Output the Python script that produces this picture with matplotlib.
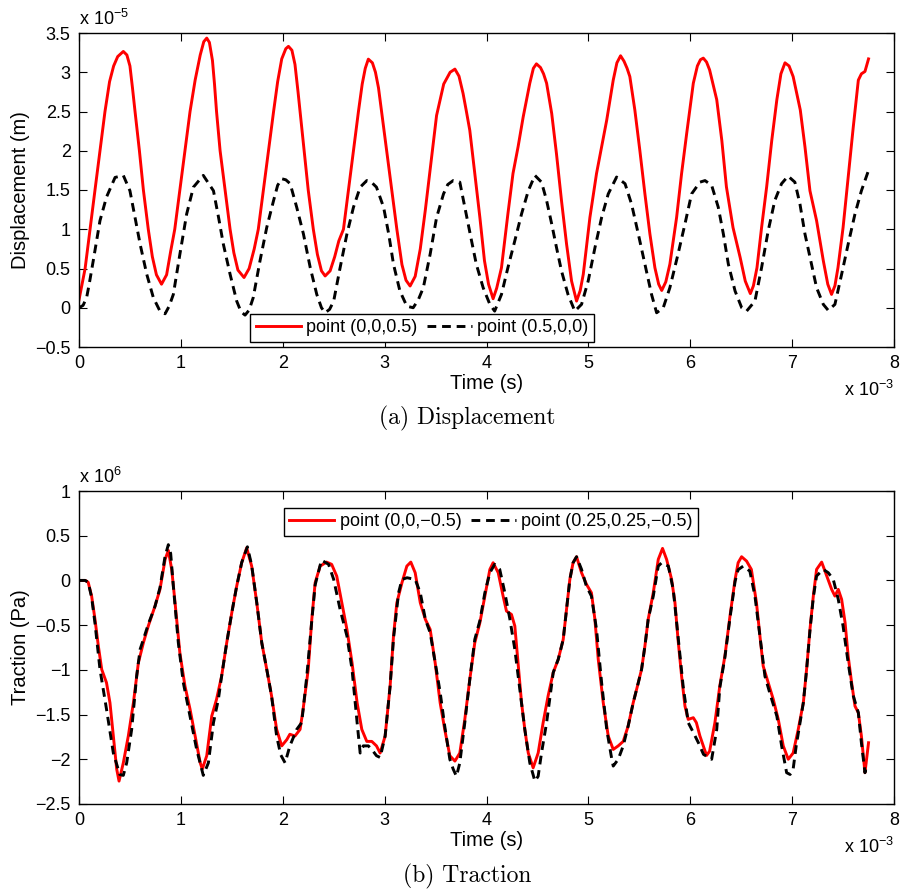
import matplotlib
matplotlib.use("Agg")
import matplotlib.pyplot as plt

plt.rcParams['font.family'] = ['Liberation Sans', 'DejaVu Sans']
plt.rcParams['mathtext.fontset'] = 'custom'
plt.rcParams['mathtext.rm'] = 'Liberation Sans'
plt.rcParams['mathtext.it'] = 'Liberation Sans:italic'
plt.rcParams['mathtext.sf'] = 'Liberation Sans'
plt.rcParams['axes.unicode_minus'] = True

# ---------------- data (time in 1e-3 s) ----------------
# (a) displacement, in 1e-5 m
t_disp_a = [0.00, 0.03, 0.06, 0.108, 0.157, 0.206, 0.255, 0.30, 0.34, 0.38, 0.435, 0.47, 0.50, 0.525, 0.55,
            0.593, 0.632, 0.68, 0.72, 0.76, 0.81, 0.86, 0.90, 0.94, 0.99, 1.04, 1.09, 1.14, 1.19, 1.225, 1.254,
            1.28, 1.31, 1.33, 1.35, 1.385, 1.434, 1.483, 1.52, 1.56, 1.62, 1.67, 1.72, 1.76, 1.81, 1.86, 1.91,
            1.95, 1.99, 2.03, 2.056, 2.09, 2.12, 2.15, 2.17, 2.21, 2.25, 2.30, 2.34, 2.38, 2.416, 2.465, 2.51,
            2.55, 2.596, 2.645, 2.694, 2.743, 2.78, 2.81, 2.84, 2.88, 2.91, 2.94, 2.97, 3.02, 3.07, 3.12, 3.17,
            3.21, 3.25, 3.30, 3.35, 3.40, 3.45, 3.51, 3.58, 3.643, 3.69, 3.73, 3.77, 3.80, 3.836, 3.885, 3.935,
            3.98, 4.02, 4.065, 4.10, 4.147, 4.21, 4.26, 4.31, 4.36, 4.425, 4.46, 4.49, 4.53, 4.56, 4.59, 4.64,
            4.687, 4.736, 4.786, 4.835, 4.884, 4.92, 4.95, 5.015, 5.08, 5.13, 5.18, 5.244, 5.28, 5.316, 5.35,
            5.38, 5.407, 5.456, 5.505, 5.555, 5.604, 5.653, 5.69, 5.72, 5.76, 5.80, 5.866, 5.915, 5.965, 6.03,
            6.07, 6.10, 6.128, 6.16, 6.19, 6.26, 6.31, 6.355, 6.42, 6.49, 6.54, 6.59, 6.62, 6.655, 6.70, 6.75,
            6.80, 6.85, 6.89, 6.93, 6.97, 7.01, 7.08, 7.126, 7.175, 7.24, 7.306, 7.35, 7.387, 7.42, 7.45, 7.50,
            7.55, 7.60, 7.65, 7.68, 7.715, 7.75]
u_disp_a = [0.10, 0.30, 0.50, 1.00, 1.50, 2.00, 2.50, 2.88, 3.08, 3.20, 3.265, 3.22, 3.08, 2.80, 2.50,
            2.00, 1.50, 1.00, 0.65, 0.42, 0.30, 0.42, 0.72, 1.00, 1.50, 2.00, 2.50, 2.90, 3.22, 3.39, 3.435,
            3.38, 3.15, 2.85, 2.50, 2.00, 1.50, 1.00, 0.70, 0.48, 0.385, 0.50, 0.75, 1.00, 1.50, 2.00, 2.50,
            2.88, 3.17, 3.30, 3.33, 3.28, 3.10, 2.75, 2.50, 2.00, 1.50, 1.00, 0.68, 0.47, 0.405, 0.47, 0.65,
            0.85, 1.00, 1.50, 2.00, 2.50, 2.85, 3.05, 3.167, 3.12, 3.00, 2.80, 2.50, 2.00, 1.50, 1.00, 0.55,
            0.35, 0.277, 0.40, 0.75, 1.25, 1.80, 2.45, 2.85, 3.00, 3.04, 2.95, 2.73, 2.52, 2.26, 1.71, 1.15,
            0.60, 0.30, 0.115, 0.25, 0.51, 1.195, 1.71, 2.05, 2.43, 2.86, 3.05, 3.107, 3.06, 2.98, 2.86, 2.475,
            1.96, 1.366, 0.81, 0.34, 0.085, 0.22, 0.427, 1.15, 1.71, 2.05, 2.39, 2.90, 3.12, 3.21, 3.14,
            3.05, 2.945, 2.52, 2.006, 1.45, 0.94, 0.51, 0.30, 0.22, 0.33, 0.555, 1.15, 1.71, 2.22, 2.86,
            3.08, 3.16, 3.18, 3.13, 3.03, 2.65, 2.13, 1.54, 1.02, 0.64, 0.34, 0.18, 0.28, 0.51, 1.02, 1.54,
            2.13, 2.65, 2.98, 3.12, 3.08, 2.945, 2.52, 2.05, 1.49, 1.11, 0.60, 0.30, 0.17, 0.28, 0.51, 1.02,
            1.66, 2.30, 2.90, 2.98, 3.01, 3.17]

t_disp_b = [0.00, 0.04, 0.075, 0.10, 0.14, 0.206, 0.27, 0.354, 0.435, 0.50, 0.55, 0.60, 0.665, 0.73, 0.795,
            0.845, 0.885, 0.926, 0.99, 1.057, 1.123, 1.22, 1.32, 1.37, 1.417, 1.483, 1.548, 1.59, 1.63, 1.67,
            1.71, 1.777, 1.843, 1.91, 1.95, 1.99, 2.03, 2.073, 2.137, 2.203, 2.27, 2.334, 2.38, 2.416, 2.46,
            2.50, 2.563, 2.63, 2.694, 2.76, 2.825, 2.87, 2.92, 2.99, 3.04, 3.087, 3.15, 3.218, 3.28, 3.33,
            3.38, 3.447, 3.51, 3.578, 3.62, 3.673, 3.738, 3.80, 3.853, 3.90, 3.967, 4.033, 4.08, 4.147, 4.21,
            4.278, 4.344, 4.41, 4.475, 4.54, 4.59, 4.64, 4.687, 4.736, 4.80, 4.867, 4.933, 4.998, 5.065, 5.13,
            5.195, 5.277, 5.36, 5.424, 5.49, 5.555, 5.62, 5.67, 5.735, 5.80, 5.88, 5.948, 6.013, 6.095, 6.145,
            6.21, 6.275, 6.325, 6.374, 6.44, 6.505, 6.553, 6.635, 6.70, 6.765, 6.83, 6.896, 6.96, 7.027, 7.077,
            7.126, 7.19, 7.24, 7.306, 7.355, 7.42, 7.486, 7.55, 7.617, 7.68, 7.75]
u_disp_b = [0.00, 0.03, 0.13, 0.30, 0.60, 1.11, 1.41, 1.66, 1.686, 1.49, 1.15, 0.81, 0.427, 0.128, -0.043,
            -0.077, 0.02, 0.17, 0.68, 1.195, 1.536, 1.686, 1.49, 1.15, 0.81, 0.427, 0.085, -0.05, -0.094, -0.03,
            0.128, 0.60, 1.024, 1.366, 1.56, 1.643, 1.63, 1.58, 1.28, 0.94, 0.51, 0.17, 0.00, -0.064, -0.02,
            0.085, 0.51, 0.94, 1.28, 1.536, 1.62, 1.60, 1.536, 1.28, 0.94, 0.555, 0.213, 0.02, 0.00, 0.10,
            0.256, 0.683, 1.15, 1.45, 1.57, 1.62, 1.60, 1.195, 0.854, 0.555, 0.256, 0.043, -0.043, 0.17, 0.51,
            0.854, 1.195, 1.49, 1.686, 1.60, 1.366, 1.067, 0.768, 0.47, 0.17, -0.043, 0.043, 0.34, 0.768, 1.15,
            1.45, 1.665, 1.58, 1.32, 0.94, 0.555, 0.17, -0.064, 0.00, 0.256, 0.683, 1.067, 1.45, 1.60, 1.62,
            1.56, 1.28, 0.94, 0.555, 0.213, 0.00, -0.043, 0.085, 0.51, 0.98, 1.366, 1.58, 1.677, 1.60, 1.32,
            0.94, 0.555, 0.256, 0.043, -0.034, 0.043, 0.427, 0.81, 1.195, 1.49, 1.75]

# (b) traction, in 1e6 Pa
t_trac_a = [0.00, 0.06, 0.09, 0.124, 0.157, 0.19, 0.223, 0.27, 0.304, 0.337, 0.37, 0.393, 0.435, 0.484, 0.534,
            0.583, 0.632, 0.68, 0.746, 0.795, 0.845, 0.877, 0.91, 0.943, 0.99, 1.04, 1.09, 1.14, 1.19, 1.21,
            1.254, 1.303, 1.35, 1.40, 1.45, 1.50, 1.548, 1.597, 1.646, 1.695, 1.745, 1.794, 1.843, 1.89, 1.94,
            1.99, 2.04, 2.07, 2.12, 2.17, 2.20, 2.25, 2.285, 2.318, 2.367, 2.43, 2.48, 2.53, 2.58, 2.63, 2.68,
            2.73, 2.776, 2.825, 2.874, 2.92, 2.956, 3.005, 3.054, 3.087, 3.12, 3.17, 3.218, 3.257, 3.30, 3.35,
            3.40, 3.447, 3.496, 3.545, 3.59, 3.64, 3.69, 3.738, 3.787, 3.836, 3.885, 3.935, 3.984, 4.033, 4.065,
            4.115, 4.163, 4.196, 4.245, 4.278, 4.31, 4.344, 4.376, 4.41, 4.458, 4.507, 4.556, 4.605, 4.655,
            4.704, 4.753, 4.786, 4.818, 4.85, 4.884, 4.933, 4.982, 5.03, 5.064, 5.097, 5.146, 5.195, 5.244,
            5.293, 5.342, 5.39, 5.44, 5.49, 5.522, 5.555, 5.587, 5.637, 5.686, 5.728, 5.768, 5.817, 5.85, 5.88,
            5.915, 5.948, 5.98, 6.03, 6.06, 6.095, 6.16, 6.19, 6.242, 6.29, 6.34, 6.39, 6.44, 6.47, 6.504,
            6.553, 6.60, 6.65, 6.684, 6.716, 6.766, 6.815, 6.864, 6.913, 6.962, 7.01, 7.06, 7.11, 7.142, 7.175,
            7.208, 7.24, 7.29, 7.34, 7.388, 7.42, 7.453, 7.486, 7.52, 7.55, 7.584, 7.617, 7.65, 7.68, 7.715,
            7.75]
p_trac_a = [0.00, 0.00, -0.02, -0.175, -0.436, -0.734, -0.995, -1.144, -1.368, -1.74, -2.11, -2.244, -2.04,
            -1.74, -1.368, -0.92, -0.697, -0.51, -0.287, -0.10, 0.235, 0.335, 0.123, -0.25, -0.81, -1.18, -1.44,
            -1.74, -2.04, -2.11, -1.96, -1.517, -1.33, -1.07, -0.697, -0.36, -0.063, 0.198, 0.365, 0.16, -0.25,
            -0.697, -0.995, -1.29, -1.666, -1.85, -1.78, -1.72, -1.74, -1.666, -1.44, -0.995, -0.436, -0.026,
            0.16, 0.205, 0.18, 0.048, -0.25, -0.548, -0.92, -1.368, -1.666, -1.80, -1.80, -1.85, -1.93, -1.74,
            -1.18, -0.622, -0.25, -0.026, 0.16, 0.205, 0.086, -0.25, -0.436, -0.548, -0.92, -1.368, -1.666,
            -1.96, -2.02, -1.93, -1.554, -1.107, -0.697, -0.473, -0.175, 0.123, 0.198, 0.086, -0.175, -0.343,
            -0.38, -0.51, -0.92, -1.368, -1.666, -1.93, -2.095, -1.93, -1.59, -1.29, -1.03, -0.883, -0.66,
            -0.324, 0.011, 0.198, 0.265, 0.086, -0.045, -0.138, -0.436, -0.883, -1.368, -1.74, -1.89, -1.85,
            -1.80, -1.63, -1.368, -1.144, -0.995, -0.734, -0.436, -0.138, 0.235, 0.358, 0.235, 0.011, -0.25,
            -0.66, -1.07, -1.405, -1.554, -1.535, -1.59, -1.74, -1.957, -1.91, -1.59, -1.18, -0.846, -0.399,
            0.011, 0.198, 0.265, 0.216, 0.123, -0.25, -0.622, -0.958, -1.144, -1.33, -1.554, -1.85, -2.00,
            -1.93, -1.666, -1.368, -0.995, -0.548, -0.175, 0.123, 0.205, 0.048, -0.10, -0.175, -0.10, -0.212,
            -0.473, -0.846, -1.144, -1.405, -1.48, -1.74, -2.15, -1.815]

t_trac_b = [0.00, 0.06, 0.09, 0.124, 0.157, 0.206, 0.27, 0.337, 0.40, 0.435, 0.468, 0.517, 0.566, 0.60, 0.632,
            0.68, 0.746, 0.795, 0.845, 0.877, 0.90, 0.926, 0.975, 1.024, 1.09, 1.155, 1.22, 1.27, 1.32, 1.368,
            1.40, 1.45, 1.50, 1.548, 1.597, 1.653, 1.695, 1.745, 1.794, 1.843, 1.89, 1.94, 1.98, 2.023, 2.07,
            2.137, 2.186, 2.236, 2.285, 2.318, 2.38, 2.45, 2.50, 2.563, 2.63, 2.68, 2.73, 2.76, 2.79, 2.84,
            2.874, 2.92, 2.956, 3.005, 3.054, 3.087, 3.137, 3.17, 3.22, 3.30, 3.35, 3.40, 3.447, 3.496, 3.545,
            3.59, 3.64, 3.673, 3.705, 3.738, 3.787, 3.836, 3.885, 3.935, 3.984, 4.033, 4.08, 4.13, 4.18, 4.23,
            4.278, 4.327, 4.376, 4.425, 4.475, 4.507, 4.54, 4.59, 4.655, 4.704, 4.753, 4.786, 4.818, 4.85,
            4.884, 4.933, 4.98, 5.03, 5.08, 5.13, 5.18, 5.23, 5.244, 5.293, 5.342, 5.39, 5.44, 5.49, 5.522,
            5.555, 5.587, 5.637, 5.686, 5.72, 5.785, 5.833, 5.88, 5.93, 5.98, 6.03, 6.08, 6.13, 6.21, 6.26,
            6.29, 6.34, 6.39, 6.44, 6.47, 6.52, 6.585, 6.635, 6.684, 6.733, 6.78, 6.85, 6.897, 6.946, 6.98,
            7.01, 7.04, 7.11, 7.142, 7.175, 7.208, 7.24, 7.306, 7.355, 7.404, 7.453, 7.50, 7.55, 7.60, 7.65,
            7.68, 7.715, 7.735]
p_trac_b = [0.00, 0.00, -0.02, -0.19, -0.48, -0.995, -1.44, -1.93, -2.17, -2.18, -2.04, -1.666, -1.07, -0.77,
            -0.66, -0.49, -0.29, -0.08, 0.27, 0.40, 0.30, -0.063, -0.697, -1.144, -1.517, -1.89, -2.18, -2.04,
            -1.59, -1.33, -1.07, -0.697, -0.36, -0.063, 0.20, 0.376, 0.17, -0.25, -0.697, -0.995, -1.29, -1.74,
            -1.95, -2.04, -1.85, -1.666, -1.59, -1.07, -0.45, -0.05, 0.227, 0.18, 0.011, -0.324, -0.622, -0.995,
            -1.59, -1.93, -1.85, -1.85, -1.89, -1.96, -1.98, -1.74, -1.18, -0.65, -0.138, 0.011, 0.03, 0.011,
            -0.138, -0.436, -0.585, -0.92, -1.25, -1.63, -2.00, -2.11, -2.19, -2.04, -1.59, -1.107, -0.66,
            -0.45, -0.138, 0.086, 0.18, 0.123, -0.138, -0.436, -0.77, -1.22, -1.666, -2.04, -2.244, -2.19,
            -1.93, -1.59, -1.03, -0.883, -0.66, -0.324, 0.011, 0.198, 0.265, 0.123, -0.063, -0.175, -0.548,
            -1.144, -1.666, -2.00, -2.076, -2.00, -1.85, -1.63, -1.368, -1.144, -0.995, -0.734, -0.436, -0.175,
            0.16, 0.198, 0.16, -0.10, -0.622, -1.18, -1.59, -1.70, -1.815, -1.945, -2.00, -1.666, -1.20, -0.86,
            -0.42, -0.01, 0.12, 0.16, 0.104, -0.175, -0.622, -1.07, -1.256, -1.517, -1.85, -2.15, -2.17, -2.11,
            -1.85, -1.368, -1.00, -0.56, -0.19, 0.05, 0.123, 0.086, 0.011, -0.212, -0.51, -0.92, -1.29, -1.48,
            -1.815, -2.15, -2.05]

x_ticks = [0, 1, 2, 3, 4, 5, 6, 7, 8]
disp_ticks = [-0.5, 0, 0.5, 1, 1.5, 2, 2.5, 3, 3.5]
disp_labels = ['\u22120.5', '0', '0.5', '1', '1.5', '2', '2.5', '3', '3.5']
trac_ticks = [-2.5, -2, -1.5, -1, -0.5, 0, 0.5, 1]
trac_labels = ['\u22122.5', '\u22122', '\u22121.5', '\u22121', '\u22120.5', '0', '0.5', '1']

legend_a = ['point (0,0,0.5)', 'point (0.5,0,0)']
legend_b = ['point (0,0,\u22120.5)', 'point (0.25,0.25,\u22120.5)']

# ---------------- figure ----------------
W, H = 900, 891
fig = plt.figure(figsize=(W / 100, H / 100), dpi=100)

def frac_box(l, t, r, b):
    return [l / W, 1 - b / H, (r - l) / W, (b - t) / H]

ax1 = fig.add_axes(frac_box(79, 33, 894, 347))
ax2 = fig.add_axes(frac_box(79, 491, 894, 804))

RED = '#ff0000'
LW = 2.1

def style(ax):
    ax.set_xlim(0, 8)
    ax.set_xticks(x_ticks)
    ax.set_xticklabels([str(v) for v in x_ticks])
    ax.tick_params(direction='in', length=5.5, width=0.8, top=True, right=True,
                   labelsize=13, pad=6, colors='black')
    for s in ax.spines.values():
        s.set_linewidth(1.0)
        s.set_color('black')

ax1.plot(t_disp_a, u_disp_a, color=RED, lw=LW, label=legend_a[0])
ax1.plot(t_disp_b, u_disp_b, color='black', lw=LW, ls=(0, (3, 2)), label=legend_a[1])
style(ax1)
ax1.set_ylim(-0.5, 3.5)
ax1.set_yticks(disp_ticks)
ax1.set_yticklabels(disp_labels)
ax1.set_ylabel('Displacement (m)', fontsize=14.5, labelpad=4)
ax1.set_xlabel('Time (s)', fontsize=14.5, labelpad=1)
ax1.text(0.0, 1.012, r'x 10$^{-5}$', transform=ax1.transAxes, fontsize=13,
         ha='left', va='bottom')
ax1.text(1.0, -0.105, r'x 10$^{-3}$', transform=ax1.transAxes, fontsize=13,
         ha='right', va='top')
leg1 = ax1.legend(loc='lower center', bbox_to_anchor=(0.421, 0.017), ncol=2, fontsize=13,
                  frameon=True, fancybox=False, framealpha=1, edgecolor='black',
                  handlelength=2.5, handletextpad=0.3, columnspacing=0.5, borderpad=0.3,
                  borderaxespad=0)
leg1.get_frame().set_linewidth(1.0)

ax2.plot(t_trac_a, p_trac_a, color=RED, lw=LW, label=legend_b[0])
ax2.plot(t_trac_b, p_trac_b, color='black', lw=LW, ls=(0, (3, 2)), label=legend_b[1])
style(ax2)
ax2.set_ylim(-2.5, 1)
ax2.set_yticks(trac_ticks)
ax2.set_yticklabels(trac_labels)
ax2.set_ylabel('Traction (Pa)', fontsize=14.5, labelpad=4)
ax2.set_xlabel('Time (s)', fontsize=14.5, labelpad=1)
ax2.text(0.0, 1.012, r'x 10$^{6}$', transform=ax2.transAxes, fontsize=13,
         ha='left', va='bottom')
ax2.text(1.0, -0.105, r'x 10$^{-3}$', transform=ax2.transAxes, fontsize=13,
         ha='right', va='top')
leg2 = ax2.legend(loc='upper center', bbox_to_anchor=(0.5055, 0.946), ncol=2, fontsize=13,
                  frameon=True, fancybox=False, framealpha=1, edgecolor='black',
                  handlelength=2.5, handletextpad=0.3, columnspacing=0.5, borderpad=0.3,
                  borderaxespad=0)
leg2.get_frame().set_linewidth(1.0)

fig.text(467 / W, 1 - 418 / H, '(a) Displacement', family='cmr10', fontsize=17,
         ha='center', va='center')
fig.text(467 / W, 1 - 876 / H, '(b) Traction', family='cmr10', fontsize=17,
         ha='center', va='center')

fig.savefig('out.png', dpi=100)
